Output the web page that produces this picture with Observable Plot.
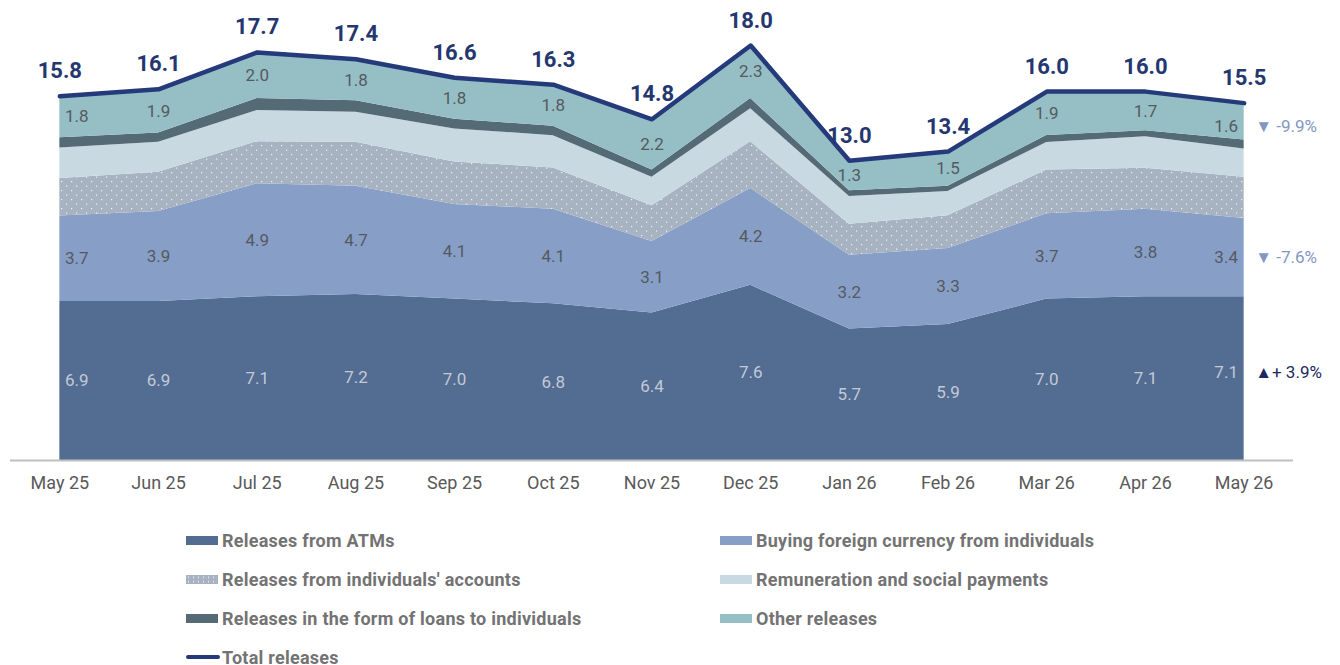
<!DOCTYPE html>
<html><head><meta charset="utf-8">
<script src="https://cdn.jsdelivr.net/npm/d3@7"></script>
<script src="https://cdn.jsdelivr.net/npm/@observablehq/plot@0.6"></script>
<style>
body{margin:0;background:#fff;font-family:Roboto,sans-serif;}
#chart{width:1340px;height:505px;}
#legend{position:relative;width:1340px;height:160px;}
.item{position:absolute;display:flex;align-items:center;height:20px;font:700 18px Roboto,sans-serif;letter-spacing:0.25px;color:#737373;white-space:nowrap;}
.sw{width:32px;height:9px;margin-right:4px;flex:none;}
.ln{width:34px;height:4px;border-radius:2px;margin-right:2px;flex:none;}
</style></head><body>
<div id="chart"></div>
<div id="legend"></div>
<script>
const months = ["May 25","Jun 25","Jul 25","Aug 25","Sep 25","Oct 25","Nov 25","Dec 25","Jan 26","Feb 26","Mar 26","Apr 26","May 26"];
const atm          = [6.9, 6.9, 7.1, 7.2, 7.0, 6.8, 6.4, 7.6, 5.7, 5.9, 7.0, 7.1, 7.1];
const fx           = [3.7, 3.9, 4.9, 4.7, 4.1, 4.1, 3.1, 4.2, 3.2, 3.3, 3.7, 3.8, 3.4];
const accounts     = [1.63, 1.7, 1.83, 1.9, 1.85, 1.79, 1.55, 2.02, 1.35, 1.42, 1.9, 1.78, 1.79];
const remuneration = [1.32, 1.3, 1.35, 1.3, 1.43, 1.4, 1.24, 1.44, 1.2, 1.05, 1.19, 1.36, 1.22];
const loans        = [0.45, 0.4, 0.52, 0.5, 0.42, 0.41, 0.31, 0.44, 0.25, 0.23, 0.31, 0.26, 0.39];
const other        = [1.8, 1.9, 2.0, 1.8, 1.8, 1.8, 2.2, 2.3, 1.3, 1.5, 1.9, 1.7, 1.6];
const total        = [15.8, 16.1, 17.7, 17.4, 16.6, 16.3, 14.8, 18.0, 13.0, 13.4, 16.0, 16.0, 15.5];

const seriesNames = ["Releases from ATMs","Buying foreign currency from individuals","Releases from individuals' accounts","Remuneration and social payments","Releases in the form of loans to individuals","Other releases"];
const seriesValues = [atm, fx, accounts, remuneration, loans, other];
const seriesColors = ["#536c92","#879ec7","url(#dots)","#c9d9e2","#546b76","#95bec5"];
const changeLabels = {"Other releases":"▼ -9.9%","Buying foreign currency from individuals":"▼ -7.6%","Releases from ATMs":"▲+ 3.9%"};
const changeColors = {"Other releases":"#8197c2","Buying foreign currency from individuals":"#8197c2","Releases from ATMs":"#1b2a5e"};
const totalName = "Total releases";

const long = seriesNames.flatMap((s, k) => seriesValues[k].map((v, i) => ({i, series: s, value: v})));
const totals = total.map((t, i) => ({i, total: t}));
const last = months.length - 1;

const stackOpts = {x: "i", y: "value", z: "series", order: seriesNames};
function lab(series, fill, cond, extra) {
  return Plot.text(long, Plot.stackY({...stackOpts,
    text: d => d.series === series && cond(d.i) ? d.value.toFixed(1) : "",
    fill, fontSize: 17, ...extra}));
}
function seriesLabels(series, fill, lastExtra) {
  return [
    lab(series, fill, i => i > 0 && i < last, {}),
    lab(series, fill, i => i === 0, {dx: 17}),
    lab(series, fill, i => i === last, {dx: -18, ...lastExtra})
  ];
}
function changeMark(series, extra) {
  return Plot.text(long, Plot.stackY({...stackOpts,
    text: d => d.series === series && d.i === last ? changeLabels[series] : "",
    fill: changeColors[series], fontSize: 17, textAnchor: "start", dx: 11, ...extra}));
}

const chart = Plot.plot({
  width: 1340, height: 505,
  marginLeft: 0, marginRight: 0, marginTop: 0, marginBottom: 45,
  style: {fontFamily: "Roboto, sans-serif", background: "#fff"},
  x: {type: "linear", domain: [-0.5, last + 0.5], range: [10, 1293], label: null},
  y: {domain: [0, 18], range: [460, 45], axis: null},
  color: {domain: seriesNames, range: seriesColors},
  marks: [
    Plot.areaY(long, {...stackOpts, fill: "series"}),
    Plot.ruleY([0], {x1: -0.5, x2: last + 0.5, stroke: "#bfbfbf", strokeWidth: 2}),
    Plot.axisX(d3.range(months.length), {tickFormat: i => months[i], tickSize: 0, tickPadding: 16, fontSize: 18, fill: "#595959", label: null}),
    ...seriesLabels("Releases from ATMs", "#c3cad6", {dy: -6}),
    ...seriesLabels("Buying foreign currency from individuals", "#555a60", {}),
    ...seriesLabels("Other releases", "#555a60", {dy: 5}),
    changeMark("Other releases", {dy: 5}),
    changeMark("Buying foreign currency from individuals", {}),
    changeMark("Releases from ATMs", {dy: -6}),
    Plot.lineY(totals, {x: "i", y: "total", stroke: "#243a7a", strokeWidth: 4.5, strokeLinecap: "round", strokeLinejoin: "round"}),
    Plot.text(totals, {x: "i", y: "total", text: d => d.total.toFixed(1), dy: -25, fontSize: 22, fontWeight: 700, fill: "#25376f"})
  ]
});

const defs = d3.select(chart).insert("defs", ":first-child");
const pat = defs.append("pattern").attr("id", "dots").attr("patternUnits", "userSpaceOnUse").attr("width", 10).attr("height", 9);
pat.append("rect").attr("width", 10).attr("height", 9).attr("fill", "#a8b3c2");
pat.append("rect").attr("x", 1).attr("y", 1).attr("width", 1.2).attr("height", 1.2).attr("fill", "#eef1f5");
pat.append("rect").attr("x", 6).attr("y", 5.5).attr("width", 1.2).attr("height", 1.2).attr("fill", "#eef1f5");
document.getElementById("chart").appendChild(chart);

// legend
const legend = document.getElementById("legend");
const cols = [186, 720];
const rowsTop = [25, 64, 103, 142];
seriesNames.forEach((s, k) => {
  const it = document.createElement("div");
  it.className = "item";
  it.style.left = cols[k % 2] + "px";
  it.style.top = rowsTop[Math.floor(k / 2)] + "px";
  const sw = document.createElement("span");
  sw.className = "sw";
  if (seriesColors[k].startsWith("url")) {
    sw.style.background = "radial-gradient(circle, #eef1f5 0.7px, transparent 1px) 0 0/5px 4.5px, #a8b3c2";
  } else sw.style.background = seriesColors[k];
  it.appendChild(sw);
  it.appendChild(document.createTextNode(s));
  legend.appendChild(it);
});
const tl = document.createElement("div");
tl.className = "item";
tl.style.left = cols[0] + "px";
tl.style.top = rowsTop[3] + "px";
const ln = document.createElement("span");
ln.className = "ln"; ln.style.background = "#243a7a";
tl.appendChild(ln);
tl.appendChild(document.createTextNode(totalName));
legend.appendChild(tl);
</script>
</body></html>
